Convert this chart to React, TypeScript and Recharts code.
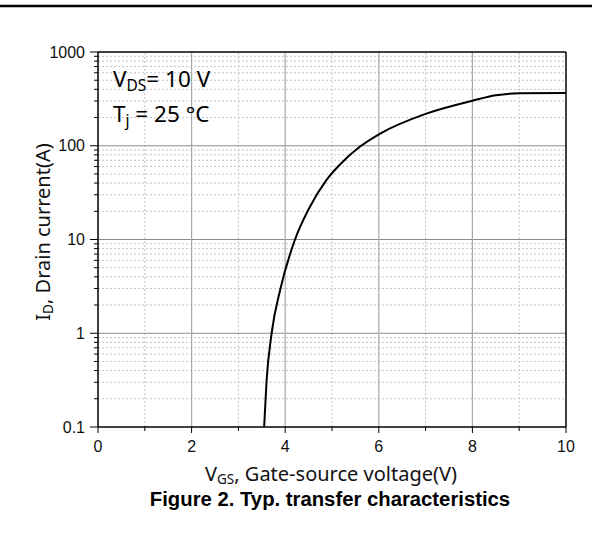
import React from "react";
import { LineChart, Line, XAxis, YAxis, ReferenceLine } from "recharts";

const VGS = [3.55, 3.6, 3.71, 3.9, 4.21, 4.5, 4.88, 5.17, 5.6, 6.03, 7.0, 8.0, 8.5, 9.0, 10.0];
const ID = [0.1, 0.3, 1, 3, 10, 21, 43, 63, 98, 135, 219, 302, 345, 363, 366];

const X_TICKS = [0, 1, 2, 3, 4, 5, 6, 7, 8, 9, 10];
const X_MAJOR = [0, 2, 4, 6, 8, 10];
const X_GRID_MAJOR = [2, 4, 6, 8];
const X_GRID_MINOR = [1, 3, 5, 7, 9];

const Y_MAJOR = [0.1, 1, 10, 100, 1000];
const Y_LABELS = ["0.1", "1", "10", "100", "1000"];
const Y_GRID_MAJOR = [1, 10, 100];
const Y_MINOR_MULT = [2, 3, 4, 5, 6, 7, 8, 9];
const Y_DECADES = [0.1, 1, 10, 100];
const Y_GRID_MINOR: number[] = [];
Y_DECADES.forEach((d) => Y_MINOR_MULT.forEach((m) => Y_GRID_MINOR.push(+(d * m).toPrecision(3))));
const Y_TICKS = [...Y_MAJOR, ...Y_GRID_MINOR];

const data = VGS.map((v, i) => ({ vgs: v, id: ID[i] }));

const TICK_FONT = "'Liberation Sans', Arial, sans-serif";
const TEXT_FONT = "'Noto Sans', 'Open Sans', sans-serif";

const YTick = (props: any) => {
  const { x, y, payload } = props;
  const v = payload.value;
  const idx = Y_MAJOR.findIndex((m) => Math.abs(m - v) < 1e-9);
  const major = idx >= 0;
  return (
    <g>
      <line x1={x} x2={x - (major ? 8 : 4)} y1={y} y2={y} stroke="#000" strokeWidth={1} />
      {major && (
        <text x={x - 13} y={y} dy={5.5} textAnchor="end" fontFamily={TICK_FONT} fontSize={16} fill="#111">
          {Y_LABELS[idx]}
        </text>
      )}
    </g>
  );
};

const XTick = (props: any) => {
  const { x, y, payload } = props;
  const v = payload.value;
  const major = X_MAJOR.includes(v);
  return (
    <g>
      <line x1={x} x2={x} y1={y} y2={y + (major ? 6 : 4)} stroke="#000" strokeWidth={1} />
      {major && (
        <text x={x} y={y} dy={25} textAnchor="middle" fontFamily={TICK_FONT} fontSize={16} fill="#111">
          {String(v)}
        </text>
      )}
    </g>
  );
};

export default function App() {
  return (
    <div style={{ position: "absolute", left: 0, top: 0, width: 601, height: 534, background: "#fff" }}>
      <LineChart
        width={601}
        height={534}
        data={data}
        margin={{ top: 52, right: 35, bottom: 77, left: 38 }}
      >
        <XAxis
          dataKey="vgs"
          type="number"
          domain={[0, 10]}
          ticks={X_TICKS}
          interval={0}
          tick={<XTick />}
          tickLine={false}
          tickSize={0}
          tickMargin={0}
          height={30}
          axisLine={{ stroke: "#000", strokeWidth: 1.5 }}
        />
        <YAxis
          dataKey="id"
          type="number"
          scale="log"
          domain={[0.1, 1000]}
          allowDataOverflow
          ticks={Y_TICKS}
          interval={0}
          tick={<YTick />}
          tickLine={false}
          tickSize={0}
          tickMargin={0}
          width={60}
          axisLine={{ stroke: "#000", strokeWidth: 1.5 }}
        />
        {Y_GRID_MINOR.map((v) => (
          <ReferenceLine key={"ym" + v} y={v} stroke="#c4c4c4" strokeDasharray="2 2" strokeWidth={1} />
        ))}
        {X_GRID_MINOR.map((v) => (
          <ReferenceLine key={"xm" + v} x={v} stroke="#c4c4c4" strokeDasharray="2 2" strokeWidth={1} />
        ))}
        {Y_GRID_MAJOR.map((v) => (
          <ReferenceLine key={"yM" + v} y={v} stroke="#8c8c8c" strokeWidth={1} />
        ))}
        {X_GRID_MAJOR.map((v) => (
          <ReferenceLine key={"xM" + v} x={v} stroke="#a8a8a8" strokeWidth={1.2} />
        ))}
        <ReferenceLine y={1000} stroke="#000" strokeWidth={1.5} />
        <ReferenceLine x={10} stroke="#000" strokeWidth={1.5} />
        <Line
          type="monotone"
          dataKey="id"
          stroke="#000"
          strokeWidth={2}
          dot={false}
          isAnimationActive={false}
        />
      </LineChart>
      <svg
        width={601}
        height={534}
        style={{ position: "absolute", left: 0, top: 0, pointerEvents: "none" }}
      >
        <line x1={0} x2={592} y1={6} y2={6} stroke="#000" strokeWidth={2.5} />
        <text x={113} y={87} fontFamily={TEXT_FONT} fontSize={22.5} fill="#000">
          V<tspan fontSize={15.5} dy={4}>DS</tspan>
          <tspan dy={-4}>= 10 V</tspan>
        </text>
        <text x={113} y={122} fontFamily={TEXT_FONT} fontSize={22.5} fill="#000">
          T<tspan fontSize={15.5} dy={4}>j</tspan>
          <tspan dy={-4}> = 25 °C</tspan>
        </text>
        <text x={331} y={481} textAnchor="middle" fontFamily={TEXT_FONT} fontSize={20} fill="#111">
          V<tspan fontSize={13.5} dy={3}>GS</tspan>
          <tspan dy={-3}>, Gate-source voltage(V)</tspan>
        </text>
        <text
          x={0}
          y={0}
          transform="translate(50,232) rotate(-90)"
          textAnchor="middle"
          fontFamily={TEXT_FONT}
          fontSize={20}
          fill="#111"
        >
          I<tspan fontSize={13.5} dy={3}>D</tspan>
          <tspan dy={-3}>, Drain current(A)</tspan>
        </text>
        <text
          x={330}
          y={506}
          textAnchor="middle"
          fontFamily={TICK_FONT}
          fontWeight="bold"
          fontSize={20.3}
          fill="#000"
        >
          Figure 2. Typ. transfer characteristics
        </text>
      </svg>
    </div>
  );
}
